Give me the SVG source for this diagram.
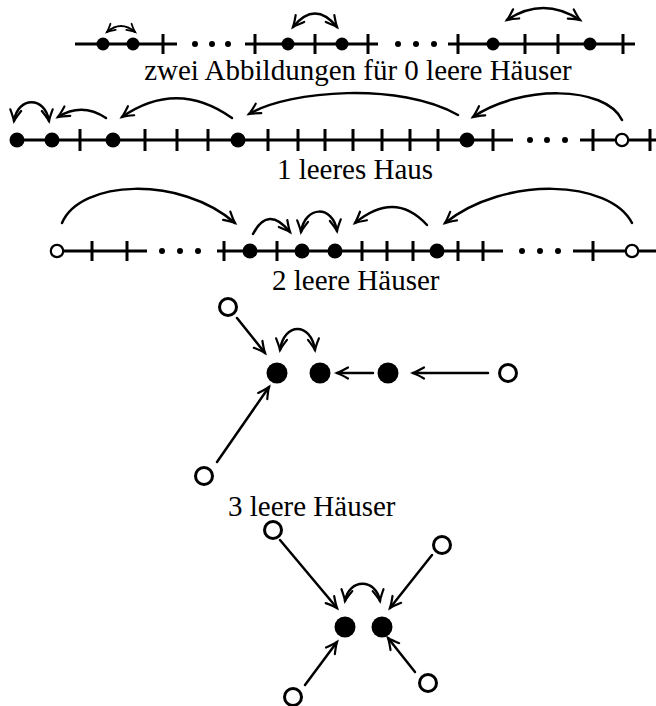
<svg xmlns="http://www.w3.org/2000/svg" width="656" height="706" viewBox="0 0 656 706">
  <defs>
    <style>
      .axis { fill: none; stroke: #000; stroke-width: 3; stroke-linecap: butt; }
      .tick { fill: none; stroke: #000; stroke-width: 3; }
      .dot { fill: #000; }
      .open { fill: #fff; stroke: #000; stroke-width: 2.2; }
      .open-big { fill: #fff; stroke: #000; stroke-width: 3; }
      .ell { fill: #000; }
      .arc { fill: none; stroke: #000; stroke-width: 2.5; stroke-linecap: round; }
      .arc-thin { fill: none; stroke: #000; stroke-width: 1.8; stroke-linecap: round; }
      .to { marker-end: url(#head); }
      .both { marker-start: url(#head); marker-end: url(#head); }
      .both-s { marker-start: url(#head-s); marker-end: url(#head-s); }
      .label { font-family: "Liberation Serif", "Times New Roman", serif; font-size: 29px; fill: #000; }
    </style>
    <marker id="head" markerUnits="userSpaceOnUse" orient="auto-start-reverse" refX="0" refY="0" markerWidth="1" markerHeight="1" style="overflow:visible">
      <path d="M-11,-5.5 Q-4,-1.5 0,0 Q-4,1.5 -11,5.5" fill="none" stroke="#000" stroke-width="2.2" stroke-linecap="round"/>
    </marker>
    <marker id="head-s" markerUnits="userSpaceOnUse" orient="auto-start-reverse" refX="0" refY="0" markerWidth="1" markerHeight="1" style="overflow:visible">
      <path d="M-8,-4 Q-3,-1 0,0 Q-3,1 -8,4" fill="none" stroke="#000" stroke-width="1.8" stroke-linecap="round"/>
    </marker>
  </defs>

  <!-- Row 1: zwei Abbildungen fuer 0 leere Haeuser -->
  <g id="row1">
    <path class="axis" d="M75,44 H177 M245,44 H378 M448,44 H635"/>
    <path class="tick" d="M163,34 V54 M255,34 V54 M315,34 V54 M368,34 V54 M458,34 V54 M525,34 V54 M558,34 V54 M623,34 V54"/>
    <g class="ell">
      <circle cx="195" cy="44" r="3"/><circle cx="212" cy="44" r="3"/><circle cx="228" cy="44" r="3"/>
      <circle cx="398" cy="44" r="3"/><circle cx="416" cy="44" r="3"/><circle cx="434" cy="44" r="3"/>
    </g>
    <g id="r1-a"><circle class="dot" cx="103" cy="44" r="6.5"/></g>
    <g id="r1-b"><circle class="dot" cx="133" cy="44" r="6.5"/></g>
    <g id="r1-c"><circle class="dot" cx="288" cy="44" r="6.5"/></g>
    <g id="r1-d"><circle class="dot" cx="342" cy="44" r="6.5"/></g>
    <g id="r1-e"><circle class="dot" cx="493" cy="44" r="6.5"/></g>
    <g id="r1-f"><circle class="dot" cx="590" cy="44" r="6.5"/></g>
    <text class="label" x="358" y="80" text-anchor="middle">zwei Abbildungen für 0 leere Häuser</text>
  </g>

  <!-- Row 2: 1 leeres Haus -->
  <g id="row2">
    <path class="axis" d="M17,140 H513 M580,140 H656"/>
    <path class="tick" d="M80,129 V151 M145,129 V151 M177,129 V151 M208,129 V151 M268,129 V151 M298,129 V151 M325,129 V151 M353,129 V151 M382,129 V151 M410,129 V151 M438,129 V151 M493,129 V151 M593,129 V151 M650,129 V151"/>
    <g class="ell">
      <circle cx="530" cy="140" r="3"/><circle cx="547" cy="140" r="3"/><circle cx="565" cy="140" r="3"/>
    </g>
    <g id="r2-a"><circle class="dot" cx="17" cy="140" r="7.5"/></g>
    <g id="r2-b"><circle class="dot" cx="52" cy="140" r="7.5"/></g>
    <g id="r2-c"><circle class="dot" cx="113" cy="140" r="7.5"/></g>
    <g id="r2-d"><circle class="dot" cx="238" cy="140" r="7.5"/></g>
    <g id="r2-e"><circle class="dot" cx="467" cy="140" r="7.5"/></g>
    <g id="r2-f"><circle class="open" cx="622" cy="140" r="6.2"/></g>
    <text class="label" x="355" y="179" text-anchor="middle">1 leeres Haus</text>
  </g>

  <!-- Row 3: 2 leere Haeuser -->
  <g id="row3">
    <path class="axis" d="M57,251 H147 M217,251 H503 M573,251 H656"/>
    <path class="tick" d="M92,241 V261 M127,241 V261 M224,241 V261 M277,241 V261 M362,241 V261 M387,241 V261 M413,241 V261 M458,241 V261 M483,241 V261 M593,241 V261"/>
    <g class="ell">
      <circle cx="162" cy="251" r="3"/><circle cx="180" cy="251" r="3"/><circle cx="198" cy="251" r="3"/>
      <circle cx="522" cy="251" r="3"/><circle cx="540" cy="251" r="3"/><circle cx="558" cy="251" r="3"/>
    </g>
    <g id="r3-a"><circle class="open" cx="57" cy="251" r="6.2"/></g>
    <g id="r3-b"><circle class="dot" cx="250" cy="251" r="7.5"/></g>
    <g id="r3-c"><circle class="dot" cx="302" cy="251" r="7.5"/></g>
    <g id="r3-d"><circle class="dot" cx="335" cy="251" r="7.5"/></g>
    <g id="r3-e"><circle class="dot" cx="437" cy="251" r="7.5"/></g>
    <g id="r3-f"><circle class="open" cx="632" cy="251" r="6.2"/></g>
    <text class="label" x="272" y="290">2 leere Häuser</text>
  </g>

  <!-- Row 4: 3 leere Haeuser (graph) -->
  <g id="row4">
    <g id="r4-a"><circle class="dot" cx="277" cy="373" r="10.5"/></g>
    <g id="r4-b"><circle class="dot" cx="320" cy="373" r="10.5"/></g>
    <g id="r4-c"><circle class="dot" cx="388" cy="373" r="10.5"/></g>
    <g id="r4-d"><circle class="open-big" cx="508" cy="373" r="8.5"/></g>
    <g id="r4-e"><circle class="open-big" cx="228" cy="307" r="8.5"/></g>
    <g id="r4-f"><circle class="open-big" cx="204" cy="476" r="8.5"/></g>
    <text class="label" x="228" y="516">3 leere Häuser</text>
  </g>

  <!-- Row 5: graph with two cycles -->
  <g id="row5">
    <g id="r5-a"><circle class="dot" cx="345" cy="627" r="10.5"/></g>
    <g id="r5-b"><circle class="dot" cx="382" cy="627" r="10.5"/></g>
    <g id="r5-c"><circle class="open-big" cx="273" cy="530" r="8.5"/></g>
    <g id="r5-d"><circle class="open-big" cx="442" cy="545" r="8.5"/></g>
    <g id="r5-e"><circle class="open-big" cx="293" cy="697" r="8.5"/></g>
    <g id="r5-f"><circle class="open-big" cx="428" cy="683" r="8.5"/></g>
  </g>

  <!-- Connectors -->
  <g id="connectors">
    <!-- row 1 -->
    <path class="arc-thin both-s" d="M107,32 Q121,20 135,32"/>
    <path class="arc both" d="M293,27 Q315,0 337,27"/>
    <path class="arc both" d="M507,20 Q543,-4 580,20"/>
    <!-- row 2 -->
    <path class="arc both" d="M14,121 C18,96 45,96 49,121"/>
    <path class="arc to" d="M106,118 Q82,102 58,117"/>
    <path class="arc to" d="M232,118 Q177,79 122,117"/>
    <path class="arc to" d="M458,115 C400,82 290,90 249,114"/>
    <path class="arc to" d="M622,120 C605,85 520,85 473,117"/>
    <!-- row 3 -->
    <path class="arc to" d="M62,223 C80,180 180,175 235,223"/>
    <path class="arc to" d="M253,234 Q268,205 290,232"/>
    <path class="arc both" d="M301,232 C305,205 333,205 337,231"/>
    <path class="arc to" d="M427,225 Q395,190 355,223"/>
    <path class="arc to" d="M632,223 C610,180 505,175 445,223"/>
    <!-- row 4 -->
    <path class="arc both" d="M280,350 C284,322 311,322 315,350"/>
    <path class="arc to" d="M237,318 L265,353"/>
    <path class="arc to" d="M217,462 L269,387"/>
    <path class="arc to" d="M373,373 L337,373"/>
    <path class="arc to" d="M488,373 L413,373"/>
    <!-- row 5 -->
    <path class="arc both" d="M345,601 C349,578 376,578 380,601"/>
    <path class="arc to" d="M280,540 L337,608"/>
    <path class="arc to" d="M432,555 L390,608"/>
    <path class="arc to" d="M305,685 L337,642"/>
    <path class="arc to" d="M415,672 L388,638"/>
  </g>
</svg>
